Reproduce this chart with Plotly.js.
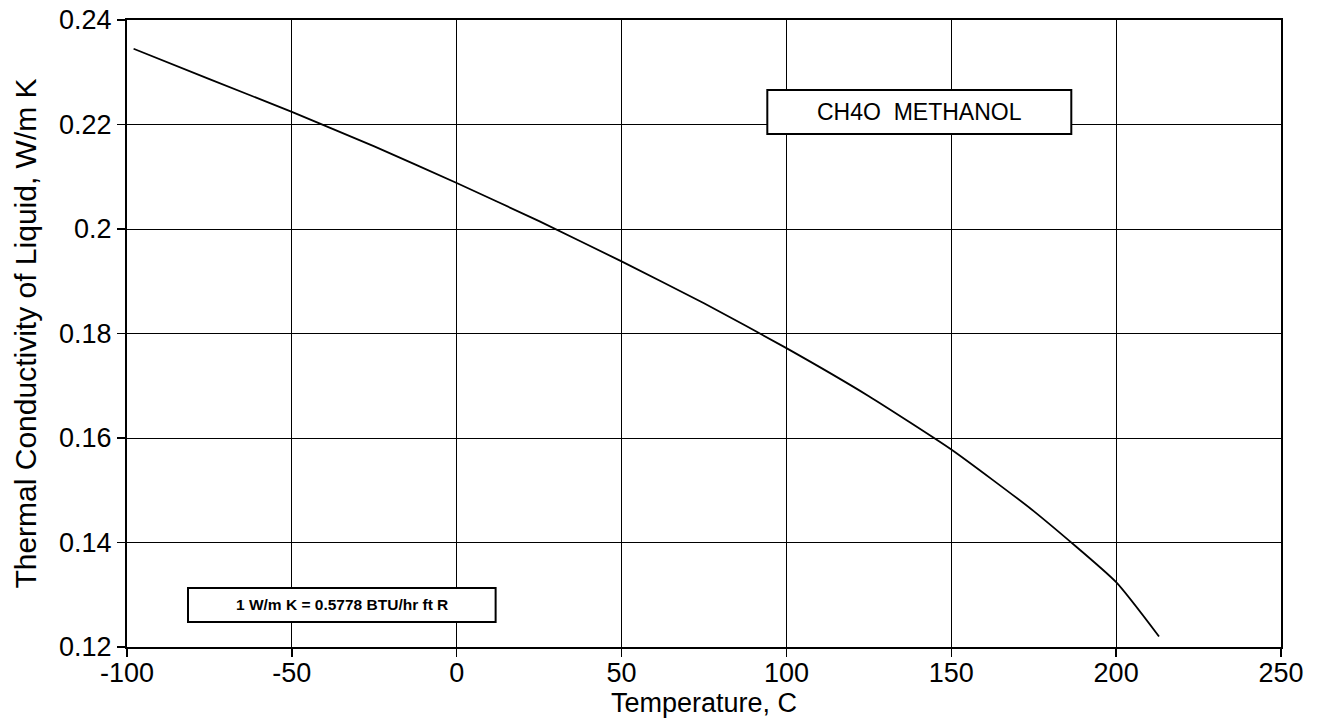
<!DOCTYPE html>
<html>
<head>
<meta charset="utf-8">
<script src="https://cdn.plot.ly/plotly-3.0.1.min.js"></script>
<style>html,body{margin:0;padding:0;background:#fff;}#chart{width:1322px;height:722px;}</style>
</head>
<body>
<div id="chart"></div>
<script>
const temperature = [-98, -75, -50, -25, 0, 25, 50, 75, 100, 125, 150, 175, 200, 213];
const conductivity = [0.2345, 0.2287, 0.2224, 0.2158, 0.2088, 0.2015, 0.1938, 0.1858, 0.1772, 0.1680, 0.1578, 0.1460, 0.1324, 0.1220];
const xTicks = [-100, -50, 0, 50, 100, 150, 200, 250];
const yTicks = [0.12, 0.14, 0.16, 0.18, 0.2, 0.22, 0.24];
const yTickLabels = ['0.12', '0.14', '0.16', '0.18', '0.2', '0.22', '0.24'];
const titleText = 'CH4O  METHANOL';
const noteText = '1 W/m K = 0.5778 BTU/hr ft R';

const font = 'Liberation Sans, Arial, Helvetica, sans-serif';

const trace = {
  x: temperature, y: conductivity, type: 'scatter', mode: 'lines',
  line: {color: '#000', width: 1.8, shape: 'spline', smoothing: 0.5},
  hoverinfo: 'skip'
};

const axisCommon = {
  showgrid: true, gridcolor: '#000', gridwidth: 1,
  showline: true, linecolor: '#000', linewidth: 2, mirror: true,
  ticks: 'outside', ticklen: 8, tickwidth: 1.5, tickcolor: '#000',
  zeroline: false, automargin: false,
  tickfont: {family: font, size: 27, color: '#000'}
};

const layout = {
  width: 1322, height: 722,
  margin: {l: 127, r: 41, t: 20, b: 75},
  paper_bgcolor: '#fff', plot_bgcolor: '#fff',
  showlegend: false,
  xaxis: Object.assign({}, axisCommon, {
    range: [-100, 250], tickvals: xTicks, ticktext: xTicks.map(String),
    ticklabelstandoff: -7,
    title: {text: 'Temperature, C', font: {family: font, size: 27, color: '#000'}, standoff: 0}
  }),
  yaxis: Object.assign({}, axisCommon, {
    range: [0.12, 0.24], tickvals: yTicks, ticktext: yTickLabels,
    ticklabelstandoff: 0,
    title: {text: 'Thermal Conductivity of Liquid, W/m K', font: {family: font, size: 30, color: '#000'}, standoff: 14}
  }),
  shapes: [
    {type: 'rect', xref: 'x', yref: 'y', x0: 94.2, x1: 186.4, y0: 0.2182, y1: 0.2266,
     line: {color: '#000', width: 2}, fillcolor: '#fff', layer: 'above'},
    {type: 'rect', xref: 'x', yref: 'y', x0: -81.5, x1: 11.8, y0: 0.1248, y1: 0.1313,
     line: {color: '#000', width: 2}, fillcolor: '#fff', layer: 'above'}
  ],
  annotations: [
    {xref: 'x', yref: 'y', x: 140.3, y: 0.2224, text: titleText, showarrow: false,
     font: {family: font, size: 23, color: '#000'}, xanchor: 'center', yanchor: 'middle'},
    {xref: 'x', yref: 'y', x: -34.9, y: 0.12805, text: '<b>' + noteText + '</b>', showarrow: false,
     font: {family: font, size: 15.5, color: '#000'}, xanchor: 'center', yanchor: 'middle'}
  ]
};

Plotly.newPlot('chart', [trace], layout, {staticPlot: true, displayModeBar: false});
</script>
</body>
</html>
